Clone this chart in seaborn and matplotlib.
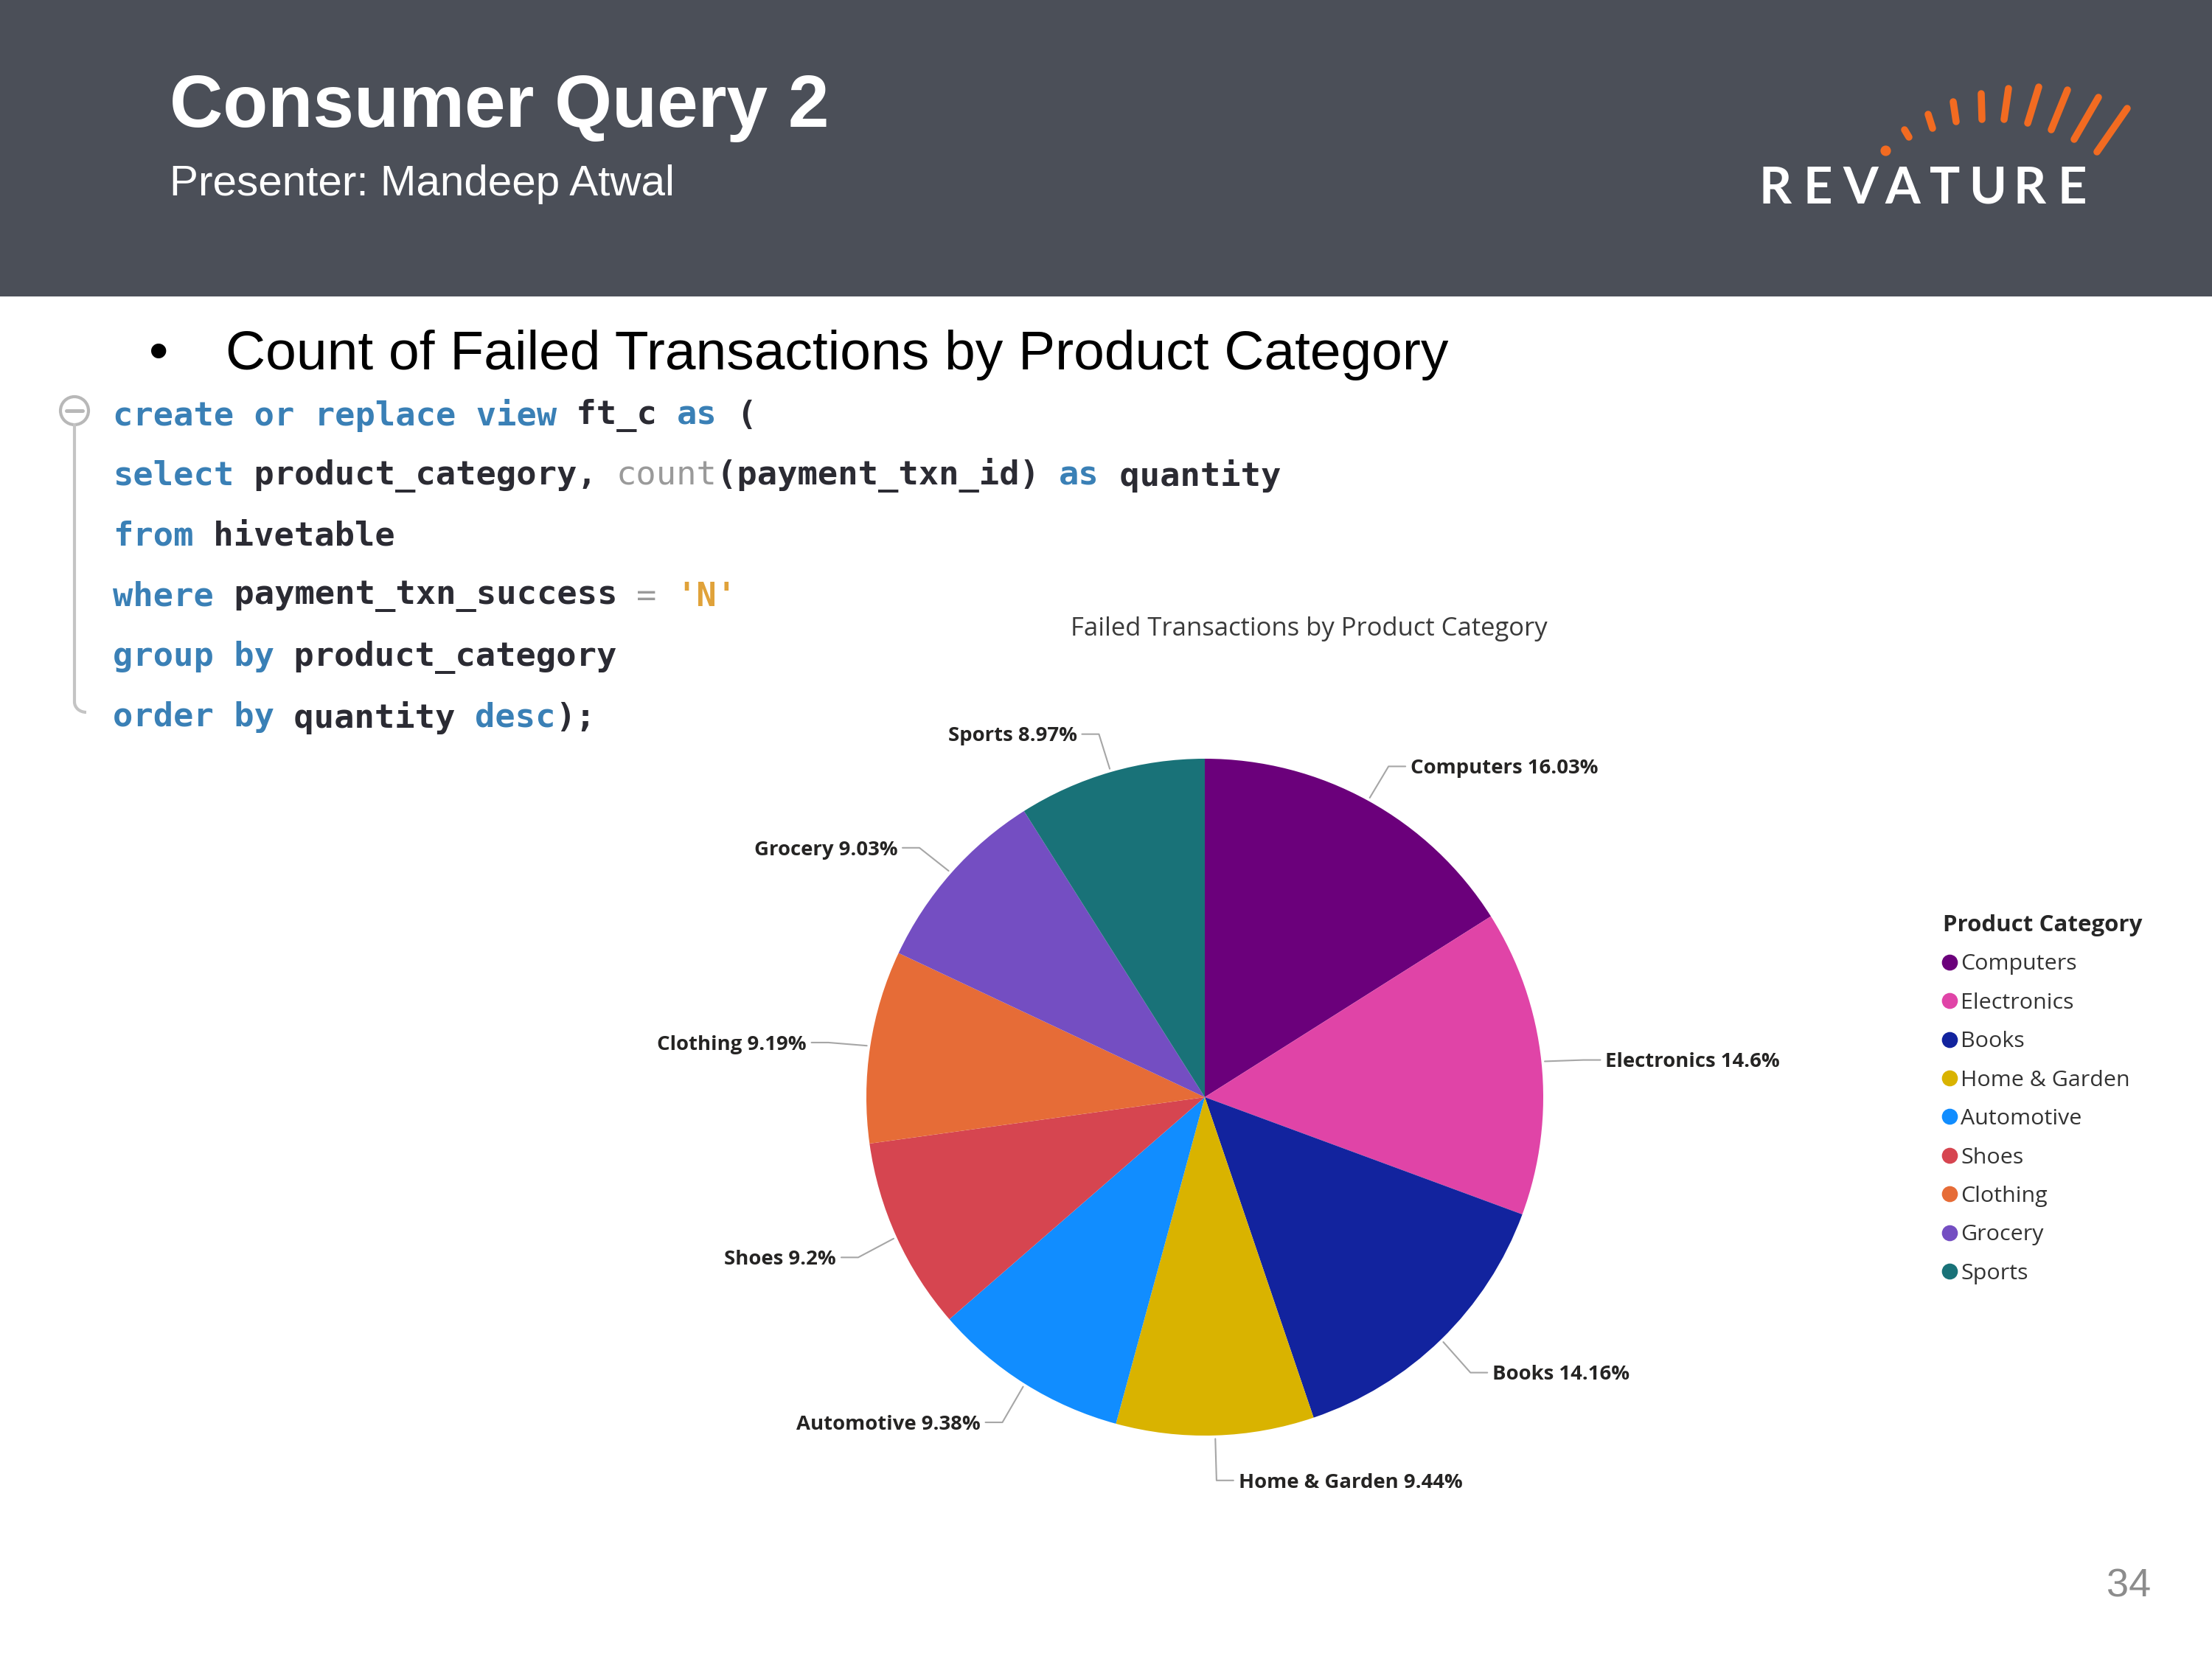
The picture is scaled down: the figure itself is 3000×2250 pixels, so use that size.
import numpy as np
import matplotlib
matplotlib.use("Agg")
import matplotlib.pyplot as plt
import seaborn as sns
from matplotlib.patches import Rectangle, Circle, Arc
from matplotlib.lines import Line2D

# data
categories = ["Computers", "Electronics", "Books", "Home & Garden", "Automotive",
              "Shoes", "Clothing", "Grocery", "Sports"]
percent = [16.03, 14.6, 14.16, 9.44, 9.38, 9.2, 9.19, 9.03, 8.97]
pct_labels = ["16.03%", "14.6%", "14.16%", "9.44%", "9.38%", "9.2%", "9.19%", "9.03%", "8.97%"]
colors = ["#6B007B", "#E044A7", "#12239E", "#D9B300", "#118DFF",
          "#D64550", "#E66C37", "#744EC2", "#197278"]

slide_title = "Consumer Query 2"
presenter = "Presenter: Mandeep Atwal"
bullet_text = "Count of Failed Transactions by Product Category"
chart_title = "Failed Transactions by Product Category"
legend_title = "Product Category"
page_no = "34"

# sql snippet, tokens tagged with a style
code_lines = [
    [("create or replace view", "kw"), (" ft_c ", "id"), ("as", "kw"), (" (", "id")],
    [("select", "kw"), (" product_category, ", "id"), ("count", "fn"), ("(payment_txn_id) ", "id"),
     ("as", "kw"), (" quantity", "id")],
    [("from", "kw"), (" hivetable", "id")],
    [("where", "kw"), (" payment_txn_success ", "id"), ("=", "fn"), (" ", "id"), ("'N'", "str")],
    [("group by", "kw"), (" product_category", "id")],
    [("order by", "kw"), (" quantity ", "id"), ("desc", "kw"), (");", "id")],
]
code_colors = {"kw": "#3a80b6", "id": "#2b2b33", "fn": "#9a9a9a", "str": "#e0a23a"}

sns.set_theme(style="white")
plt.rcParams["font.family"] = ["Open Sans", "DejaVu Sans"]

fig = plt.figure(figsize=(10, 7.5), dpi=300)
fig.patch.set_facecolor("white")

# full-page overlay in pixel units
bg = fig.add_axes([0, 0, 1, 1])
bg.set_xlim(0, 3000)
bg.set_ylim(2250, 0)
bg.axis("off")

# header band
bg.add_patch(Rectangle((0, 0), 3000, 400, color="#4b4f58", zorder=0))
bg.text(230, 146, slide_title, color="white", fontsize=24, fontweight="bold",
        family="Liberation Sans", va="center", ha="left")
bg.text(230, 250, presenter, color="white", fontsize=14,
        family="Liberation Sans", va="center", ha="left")

# logo
dashes = [((2583, 176), (2589, 186)), ((2615, 155), (2621, 174)), ((2649, 138), (2653, 165)),
          ((2687, 127), (2688, 162)), ((2724, 120), (2718, 162)), ((2765, 118), (2750, 167)),
          ((2804, 122), (2782, 176)), ((2846, 132), (2813, 189)), ((2885, 147), (2844, 206))]
for (x0, y0), (x1, y1) in dashes:
    bg.plot([x0, x1], [y0, y1], color="#f26b21", lw=2.3, solid_capstyle="round")
bg.plot([2557], [204], "o", color="#f26b21", ms=2.4)
for i, ch in enumerate("REVATURE"):
    bg.text(2408 + i * 57.5, 256, ch, color="white", fontsize=16.5, family="Lato",
            fontweight="bold", ha="center", va="center")

# bullet line
bg.text(202, 481, "\u2022", fontsize=18, family="Liberation Sans", va="center", ha="left", color="black")
bg.text(306, 481, bullet_text, fontsize=18, family="Liberation Sans", va="center", ha="left", color="black")

# code block
char_w = 27.3
for row, toks in enumerate(code_lines):
    y = 563 + row * 82
    col = 0
    for tok, kind in toks:
        bg.text(153 + col * char_w, y, tok, fontsize=10.9, family="DejaVu Sans Mono",
                color=code_colors[kind], va="center", ha="left",
                fontweight="normal" if kind == "fn" else "bold")
        col += len(tok)
bg.add_patch(Circle((101, 557), 19, fill=False, ec="#b8b8b8", lw=1.0))
bg.plot([90, 112], [557, 557], color="#b8b8b8", lw=1.2)
bg.plot([101, 101], [576, 952], color="#c4c4c4", lw=1.0)
bg.add_patch(Arc((117, 952), 32, 28, theta1=90, theta2=180, ec="#c4c4c4", lw=1.0))

# page number
bg.text(2917, 2152, page_no, fontsize=13, color="#8c8c8c", family="Liberation Sans",
        ha="right", va="center")

# pie
cx, cy, r = 1634, 1488, 459
ax = fig.add_axes([(cx - r) / 3000, 1 - (cy + r) / 2250, 2 * r / 3000, 2 * r / 2250])
wedges, _ = ax.pie(percent, colors=colors, startangle=90, counterclock=False,
                   wedgeprops=dict(linewidth=0))
ax.set_xlim(-1, 1)
ax.set_ylim(-1, 1)
ax.axis("off")

# outside labels with elbow leader lines
for w, cat, lab in zip(wedges, categories, pct_labels):
    mid = np.deg2rad((w.theta1 + w.theta2) / 2)
    ux, uy = np.cos(mid), np.sin(mid)
    side = 1 if ux >= 0 else -1
    p0 = (1.01 * ux, 1.01 * uy)
    p1 = (1.125 * ux, 1.125 * uy - 0.008)
    p2 = (p1[0] + side * 0.05, p1[1])
    ax.plot([p0[0], p1[0], p2[0]], [p0[1], p1[1], p2[1]], color="#a6a6a6", lw=0.5, clip_on=False)
    ax.text(p2[0] + side * 0.015, p2[1] - 0.006, f"{cat} {lab}", fontsize=6.6, fontweight="bold",
            color="#252423", ha="left" if side > 0 else "right", va="center")

fig.text(1775 / 3000, 1 - 853 / 2250, chart_title, fontsize=8.3, color="#3a3a3a",
         ha="center", va="center")

# legend
handles = [Line2D([], [], marker="o", ls="", color=c, markersize=4.2) for c in colors]
fig.legend(handles, categories, title=legend_title, loc="upper left",
           bbox_to_anchor=(2635 / 3000, 1 - 1240 / 2250), frameon=False, alignment="left",
           fontsize=7.3, title_fontproperties={"weight": "bold", "size": 7.5},
           handlelength=0.6, handletextpad=0.2, labelspacing=0.77, borderpad=0,
           borderaxespad=0, labelcolor="#333333")

fig.savefig("out.png", dpi=300, facecolor="white")
